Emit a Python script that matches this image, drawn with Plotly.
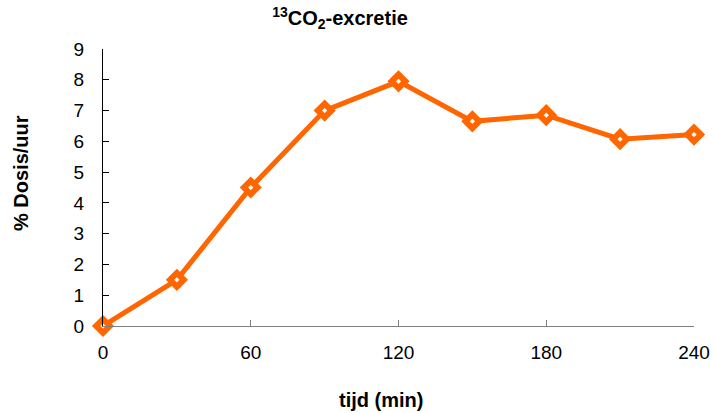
import plotly.graph_objects as go

# Time points (min) and 13CO2 excretion (% dose per hour)
tijd = [0, 30, 60, 90, 120, 150, 180, 210, 240]
dosis = [0.0, 1.5, 4.5, 7.0, 7.95, 6.65, 6.85, 6.07, 6.22]

x_ticks = [0, 60, 120, 180, 240]
y_ticks = list(range(0, 10))

orange = "#FF6600"
font_family = "Liberation Sans, Arial, sans-serif"

fig = go.Figure()
fig.add_trace(go.Scatter(
    x=tijd, y=dosis,
    mode="lines+markers",
    line=dict(color=orange, width=5),
    marker=dict(symbol="diamond", size=10.5, color="white",
                line=dict(color=orange, width=6)),
    cliponaxis=False,
    showlegend=False,
))

W, H = 713, 413

fig.update_layout(
    width=W, height=H,
    margin=dict(l=103, r=19, t=49, b=87, autoexpand=False),
    paper_bgcolor="white", plot_bgcolor="white",
    font=dict(family=font_family, color="black"),
    title=dict(
        text="<b><sup>13</sup>CO<sub>2</sub>-excretie</b>",
        x=340 / W, xanchor="center", y=1 - 18 / H, yanchor="middle",
        font=dict(size=20, family=font_family),
    ),
    xaxis=dict(
        range=[0, 240], tickvals=x_ticks, ticks="inside", ticklen=6,
        tickcolor="#808080", showline=True, linecolor="#808080", linewidth=1,
        showgrid=False, zeroline=False, automargin=False,
        tickfont=dict(size=19), ticklabelstandoff=9,
    ),
    yaxis=dict(
        range=[0, 9], tickvals=y_ticks, ticks="inside", ticklen=6,
        tickcolor="black", showline=True, linecolor="black", linewidth=1,
        showgrid=False, zeroline=False, automargin=False,
        tickfont=dict(size=19), ticklabelstandoff=14,
    ),
    annotations=[
        dict(text="<b>tijd (min)</b>", xref="paper", yref="paper",
             x=(381 - 103) / (W - 103 - 19), y=-(400 - 326) / (326 - 49),
             xanchor="center", yanchor="middle", showarrow=False,
             font=dict(size=20)),
        dict(text="<b>% Dosis/uur</b>", xref="paper", yref="paper",
             x=-(103 - 21) / (W - 103 - 19), y=(326 - 173) / (326 - 49),
             xanchor="center", yanchor="middle", showarrow=False,
             textangle=-90, font=dict(size=20)),
    ],
)

fig.write_html("out.html")
